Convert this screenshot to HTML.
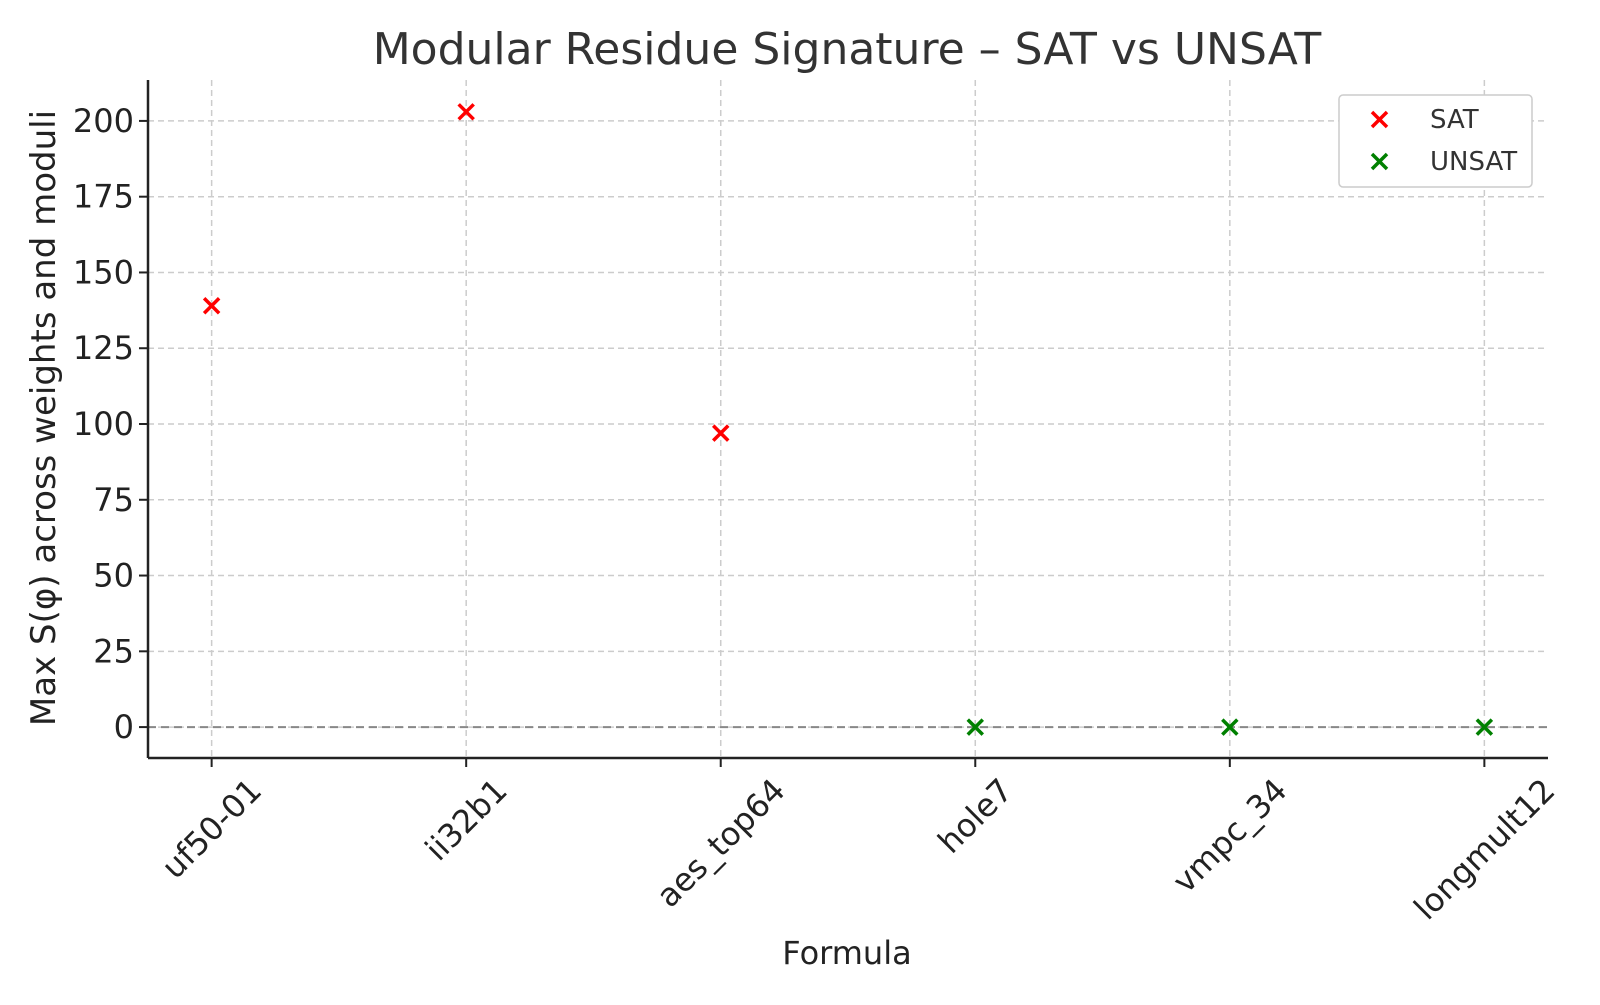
<!DOCTYPE html>
<html><head><meta charset="utf-8"><style>
body{margin:0;background:#fff;}
svg{font-family:"DejaVu Sans","Liberation Sans",sans-serif;}
</style></head><body>
<svg id="chart" width="1600" height="1000" xmlns="http://www.w3.org/2000/svg">
<text x="847" y="64" text-anchor="middle" font-size="44" fill="#333">Modular Residue Signature – SAT vs UNSAT</text>
<g id="grid"></g><g id="axes"></g><g id="marks"></g>
<text x="847" y="964" text-anchor="middle" font-size="32" fill="#222">Formula</text>
<text transform="translate(55,418) rotate(-90)" text-anchor="middle" font-size="34" fill="#222">Max S(φ) across weights and moduli</text>
<g>
<rect x="1339" y="95" width="193" height="92" rx="4" fill="#fff" stroke="#ccc" stroke-width="1.5"/>
<g><path d="M1372,112 l15,15 M1387,112 l-15,15" stroke="#f00" stroke-width="3.5"/><text x="1430" y="128" font-size="26" fill="#333">SAT</text></g>
<g><path d="M1372,154 l15,15 M1387,154 l-15,15" stroke="#008000" stroke-width="3.5"/><text x="1430" y="170" font-size="26" fill="#333">UNSAT</text></g>
</g>
</svg>
<script>
const categories=["uf50-01","ii32b1","aes_top64","hole7","vmpc_34","longmult12"];
const values=[139,203,97,0,0,0];
const groups=["SAT","SAT","SAT","UNSAT","UNSAT","UNSAT"];
const yTicks=[0,25,50,75,100,125,150,175,200];
const NS="http://www.w3.org/2000/svg";
const L=148,R=1548,T=80,B=758,ymin=-10.2,ymax=213.5;
const xs=i=>L+(i+0.25)*(R-L)/5.5;
const ys=v=>B-(v-ymin)/(ymax-ymin)*(B-T);
function mk(t,a,p){const e=document.createElementNS(NS,t);for(const k in a)e.setAttribute(k,a[k]);p.appendChild(e);return e;}
const grid=document.getElementById('grid'),axes=document.getElementById('axes'),marks=document.getElementById('marks');
yTicks.forEach(v=>{
 const y=ys(v);
 const g=mk('line',{x1:L,x2:R,y1:y,y2:y,stroke:'#ccc','stroke-width':1.5,'stroke-dasharray':'6,4'},grid);
 
 
 mk('line',{x1:L-9,x2:L,y1:y,y2:y,stroke:'#222','stroke-width':2},axes);
 const t=mk('text',{x:L-14,y:y+11,'text-anchor':'end','font-size':32,fill:'#222'},axes);
 t.textContent=v;
 
 
});
categories.forEach((c,i)=>{
 const x=xs(i);
 const g=mk('line',{x1:x,x2:x,y1:T,y2:B,stroke:'#ccc','stroke-width':1.5,'stroke-dasharray':'6,4'},grid);
 
 
 mk('line',{x1:x,x2:x,y1:B,y2:B+9,stroke:'#222','stroke-width':2},axes);
 const t=mk('text',{x:0,y:11,'text-anchor':'middle','font-size':32,fill:'#222'},axes);
 t.textContent=c;
 
 
 const w=t.getComputedTextLength(),h=30;
 const cy=B+16+(w+h)*0.7071/2;
 t.setAttribute('transform',`translate(${x},${cy}) rotate(-45)`);
});
const z=mk('line',{x1:L,x2:R,y1:ys(0),y2:ys(0),stroke:'#888','stroke-width':2,'stroke-dasharray':'8,5'},grid);


mk('line',{x1:L,x2:L,y1:T,y2:B,stroke:'#222','stroke-width':2.5},axes);
mk('line',{x1:L,x2:R,y1:B,y2:B,stroke:'#222','stroke-width':2.5},axes);
values.forEach((v,i)=>{
 const x=xs(i),y=ys(v),col=groups[i]==="SAT"?'#f00':'#008000';
 const p=mk('path',{d:`M${x-7.5},${y-7.5} L${x+7.5},${y+7.5} M${x+7.5},${y-7.5} L${x-7.5},${y+7.5}`,stroke:col,'stroke-width':3.5},marks);
 
 
});
</script>
</body></html>
